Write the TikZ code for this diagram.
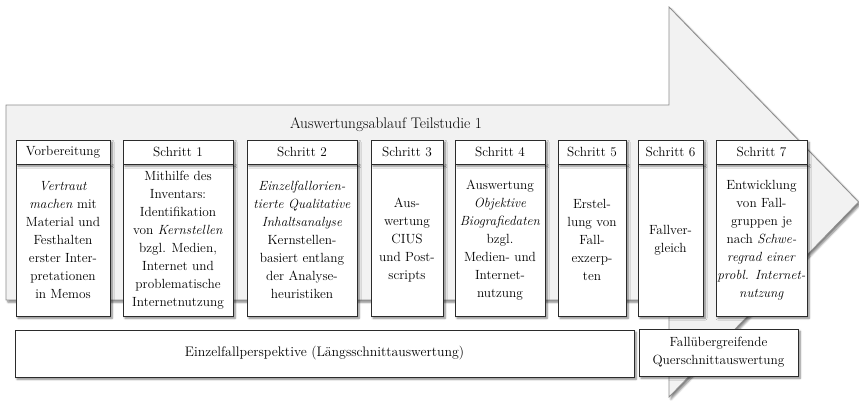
\documentclass[tikz,border=0pt]{standalone}
\usepackage{fontspec}
\usetikzlibrary{shadows.blur}

\definecolor{arrowfill}{HTML}{F2F2F2}
\definecolor{arrowline}{HTML}{8C8C8C}
\definecolor{boxline}{HTML}{2B2B2B}

\tikzset{
  txt/.style={font=\fontsize{13.3}{18}\selectfont},
  softshadow/.style={blur shadow={shadow xshift=2pt, shadow yshift=-2.2pt,
      shadow blur radius=2pt, shadow blur steps=6, shadow opacity=50}},
  flowarrow/.style={fill=arrowfill, draw=arrowline, line width=0.8pt,
      line join=miter, softshadow},
  stepbody/.style={draw=boxline, fill=white, line width=0.8pt, inner sep=0pt,
      minimum height=152pt, align=center, txt, softshadow},
  stephead/.style={draw=boxline, fill=white, line width=0.8pt, inner sep=0pt,
      minimum height=24pt, align=center, txt, softshadow},
  phasebox/.style={draw=boxline, fill=white, line width=0.8pt, inner sep=0pt,
      minimum height=47pt, align=center, txt, softshadow},
}

\begin{document}
\begin{tikzpicture}[x=1pt, y=-1pt]
  \useasboundingbox (0,0) rectangle (859,400);

  % process arrow in the background
  \draw[flowarrow] (6,105) -- (669,105) -- (669,7) -- (858.6,202)
    -- (669,397) -- (669,300) -- (6,300) -- cycle;

  \node[font=\fontsize{15.3}{18}\selectfont] (title) at (386,125)
    {Auswertungsablauf Teilstudie 1};

  % Vorbereitung
  \node[stepbody, minimum width=94pt] (b0) at (63,240)
    {\textit{Vertraut}\\ \textit{machen} mit\\ Material und\\ Festhalten\\
     erster Inter-\\ pretationen\\ in Memos};
  \node[stephead, minimum width=94pt] (h0) at (63,152) {Vorbereitung};

  % Schritt 1
  \node[stepbody, minimum width=110pt] (b1) at (178,240)
    {Mithilfe des\\ Inventars:\\ Identifikation\\ von \textit{Kernstellen}\\
     bzgl. Medien,\\ Internet und\\ problematische\\ Internetnutzung};
  \node[stephead, minimum width=110pt] (h1) at (178,152) {Schritt 1};

  % Schritt 2
  \node[stepbody, minimum width=110pt] (b2) at (302,240)
    {\textit{Einzelfallorien-}\\ \textit{tierte Qualitative}\\
     \textit{Inhaltsanalyse}\\ Kernstellen-\\ basiert entlang\\
     der Analyse-\\ heuristiken};
  \node[stephead, minimum width=110pt] (h2) at (302,152) {Schritt 2};

  % Schritt 3
  \node[stepbody, minimum width=72pt] (b3) at (407,240)
    {Aus-\\ wertung\\ CIUS\\ und Post-\\ scripts};
  \node[stephead, minimum width=72pt] (h3) at (407,152) {Schritt 3};

  % Schritt 4
  \node[stepbody, minimum width=90pt] (b4) at (500,240)
    {Auswertung\\ \textit{Objektive}\\ \textit{Biografiedaten}\\ bzgl.\\
     Medien- und\\ Internet-\\ nutzung};
  \node[stephead, minimum width=90pt] (h4) at (500,152) {Schritt 4};

  % Schritt 5
  \node[stepbody, minimum width=68pt] (b5) at (592,240)
    {Erstel-\\ lung von\\ Fall-\\ exzerp-\\ ten};
  \node[stephead, minimum width=68pt] (h5) at (592,152) {Schritt 5};

  % Schritt 6
  \node[stepbody, minimum width=65pt] (b6) at (670.5,240)
    {Fallver-\\ gleich};
  \node[stephead, minimum width=65pt] (h6) at (670.5,152) {Schritt 6};

  % Schritt 7
  \node[stepbody, minimum width=91pt] (b7) at (761.5,240)
    {Entwicklung\\ von Fall-\\ gruppen je\\ nach \textit{Schwe-}\\
     \textit{regrad einer}\\ \textit{probl. Internet-}\\ \textit{nutzung}};
  \node[stephead, minimum width=91pt] (h7) at (761.5,152) {Schritt 7};

  % perspectives below the steps
  \node[phasebox, minimum width=619pt, font=\fontsize{13.8}{18}\selectfont]
    (single) at (324.5,353.5)
    {Einzelfallperspektive (Längsschnittauswertung)};
  \node[phasebox, minimum width=159pt] (cross) at (718.5,352.5)
    {Fallübergreifende\\ Querschnittauswertung};
\end{tikzpicture}
\end{document}
